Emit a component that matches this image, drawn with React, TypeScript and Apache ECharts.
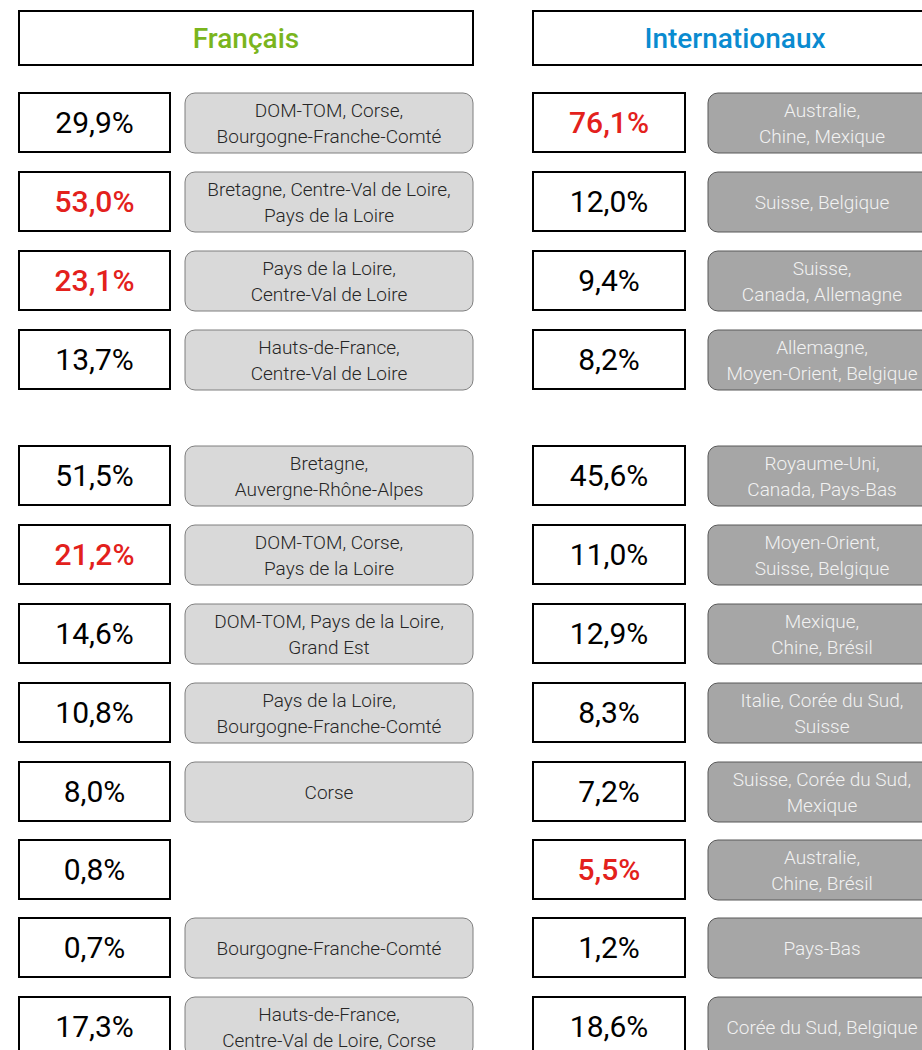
import React, { useEffect, useRef } from "react";
import * as echarts from "echarts";

const headers = ["Français", "Internationaux"];
const headerColors = ["#7ab51d", "#0a8bd0"];

const frValues = [29.9, 53.0, 23.1, 13.7, 51.5, 21.2, 14.6, 10.8, 8.0, 0.8, 0.7, 17.3];
const frRed = [false, true, true, false, false, true, false, false, false, false, false, false];
const frRegions = [
  "DOM-TOM, Corse,\nBourgogne-Franche-Comté",
  "Bretagne, Centre-Val de Loire,\nPays de la Loire",
  "Pays de la Loire,\nCentre-Val de Loire",
  "Hauts-de-France,\nCentre-Val de Loire",
  "Bretagne,\nAuvergne-Rhône-Alpes",
  "DOM-TOM, Corse,\nPays de la Loire",
  "DOM-TOM, Pays de la Loire,\nGrand Est",
  "Pays de la Loire,\nBourgogne-Franche-Comté",
  "Corse",
  "",
  "Bourgogne-Franche-Comté",
  "Hauts-de-France,\nCentre-Val de Loire, Corse",
];

const intValues = [76.1, 12.0, 9.4, 8.2, 45.6, 11.0, 12.9, 8.3, 7.2, 5.5, 1.2, 18.6];
const intRed = [true, false, false, false, false, false, false, false, false, true, false, false];
const intRegions = [
  "Australie,\nChine, Mexique",
  "Suisse, Belgique",
  "Suisse,\nCanada, Allemagne",
  "Allemagne,\nMoyen-Orient, Belgique",
  "Royaume-Uni,\nCanada, Pays-Bas",
  "Moyen-Orient,\nSuisse, Belgique",
  "Mexique,\nChine, Brésil",
  "Italie, Corée du Sud,\nSuisse",
  "Suisse, Corée du Sud,\nMexique",
  "Australie,\nChine, Brésil",
  "Pays-Bas",
  "Corée du Sud, Belgique",
];

const FONT = "Roboto, 'DejaVu Sans', sans-serif";
const fmt = (v: number) => v.toFixed(1).replace(".", ",") + "%";

function App() {
  const ref = useRef<HTMLDivElement>(null);
  useEffect(() => {
    if (!ref.current) return;
    const chart = echarts.init(ref.current, null, { renderer: "svg" });
    const rowTops = [93, 172, 251, 330, 446, 525, 604, 683, 762, 840, 918, 997];
    const cols = [
      { x0: 19, boxW: 151, gx: 185, gw: 288, gFill: "#d9d9d9", gStroke: "#7f7f7f", gText: "#262626", values: frValues, red: frRed, regions: frRegions, hw: 454, hx: 246 },
      { x0: 533, boxW: 152, gx: 708, gw: 228, gFill: "#a6a6a6", gStroke: "#595959", gText: "#f2f2f2", values: intValues, red: intRed, regions: intRegions, hw: 454, hx: 735 },
    ];
    const elements: any[] = [];
    cols.forEach((c, ci) => {
      elements.push({
        type: "rect",
        shape: { x: c.x0, y: 11, width: c.hw, height: 54 },
        style: { fill: "#fff", stroke: "#000", lineWidth: 2 },
      });
      elements.push({
        type: "text",
        x: c.hx,
        y: 38,
        style: {
          text: headers[ci],
          fill: headerColors[ci],
          font: `500 28px ${FONT}`,
          textAlign: "center",
          textVerticalAlign: "middle",
        },
      });
      c.values.forEach((v, i) => {
        const top = rowTops[i];
        const h = 59;
        elements.push({
          type: "rect",
          shape: { x: c.x0, y: top, width: c.boxW, height: h },
          style: { fill: "#fff", stroke: "#000", lineWidth: 2 },
        });
        elements.push({
          type: "text",
          x: c.x0 + c.boxW / 2,
          y: top + h / 2,
          style: {
            text: fmt(v),
            fill: c.red[i] ? "#e3211c" : "#000",
            font: `${c.red[i] ? 500 : 400} 30px ${FONT}`,
            textAlign: "center",
            textVerticalAlign: "middle",
          },
        });
        if (c.regions[i]) {
          elements.push({
            type: "rect",
            shape: { x: c.gx, y: top, width: c.gw, height: 60, r: 10 },
            style: { fill: c.gFill, stroke: c.gStroke, lineWidth: 1 },
          });
          elements.push({
            type: "text",
            x: c.gx + c.gw / 2,
            y: top + 30,
            style: {
              text: c.regions[i],
              fill: c.gText,
              font: `300 19px ${FONT}`,
              lineHeight: 26,
              textAlign: "center",
              textVerticalAlign: "middle",
            },
          });
        }
      });
    });
    chart.setOption({ animation: false, graphic: { elements } });
    return () => chart.dispose();
  }, []);
  return (
    <div
      ref={ref}
      style={{ position: "absolute", left: 0, top: 0, width: 922, height: 1050, background: "#fff" }}
    />
  );
}

export default App;
